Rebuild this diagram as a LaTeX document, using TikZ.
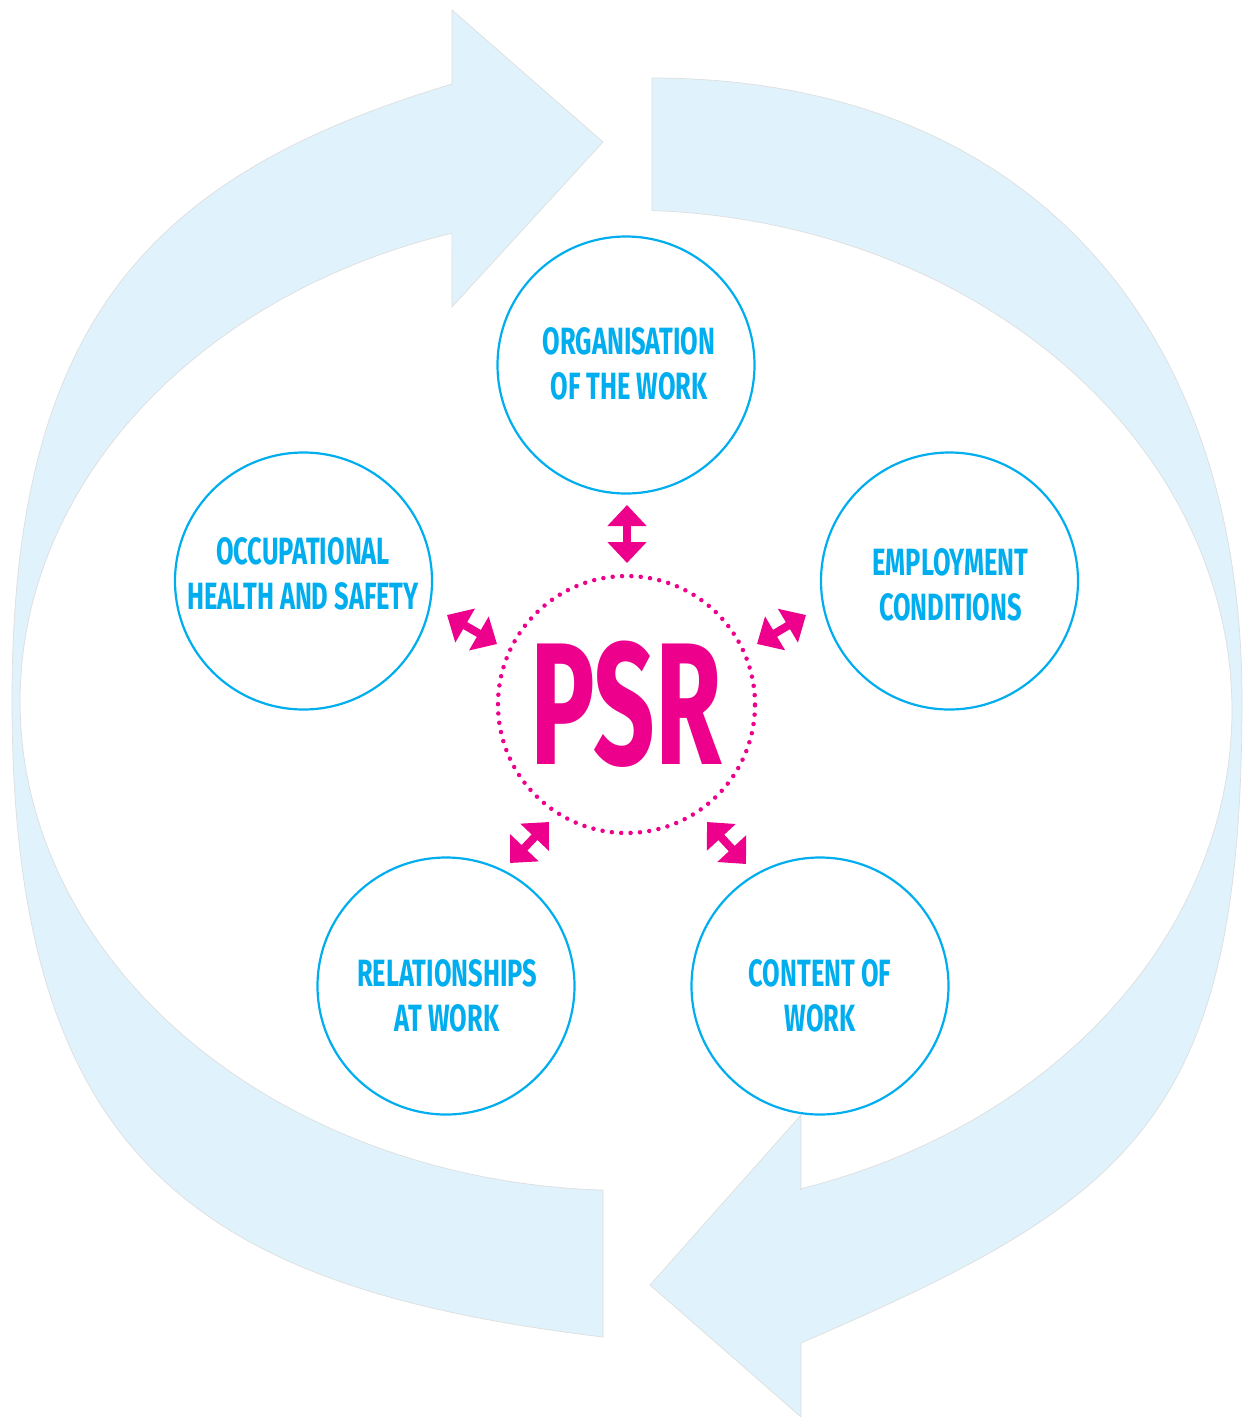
\documentclass[tikz,border=0pt]{standalone}
\usepackage{fontspec}
\newfontfamily\cond{Fira Sans}[FakeStretch=0.62]
\newfontfamily\condl{Fira Sans}[FakeStretch=0.67]
\usetikzlibrary{arrows.meta}
\definecolor{bandblue}{HTML}{E0F2FB}
\definecolor{cy}{HTML}{00AEEF}
\definecolor{mg}{HTML}{EC008C}
\begin{document}
\begin{tikzpicture}[x=1pt,y=-1pt,
  band/.style={fill=bandblue, draw=black!13, line width=0.7pt, line join=miter},
  topic/.style={circle, draw=cy, line width=2.2pt, fill=white, minimum size=257pt, inner sep=0pt},
  lbl/.style={text=cy, font=\condl\bfseries\fontsize{38}{45}\selectfont, align=center, inner sep=0pt},
  psrring/.style={circle, draw=mg, line width=4.5pt, dash pattern=on 0pt off 9.38pt, line cap=round,
     minimum size=257pt, inner sep=0pt, text=mg, font=\cond\bfseries\fontsize{174}{174}\selectfont},
  dbl/.style={draw=mg, fill=mg, line width=8pt,
     arrows={Triangle[width=38pt,length=21pt]-Triangle[width=38pt,length=21pt]}}]
\useasboundingbox (0,0) rectangle (1257,1417);

% left curved arrow (pointing right at top)
\path[band] (603,1337) -- (603,1190)
  -- plot[domain=92.2:253.3, samples=90] ({626+606*cos(\x)},{701.5+489*sin(\x)})
  -- (452,307) -- (603,142) -- (452,10) -- (452,84)
  .. controls (152,174) and (12,320) .. (12,700)
  .. controls (12,1160) and (198,1288) .. (603,1337) -- cycle;

% right curved arrow (pointing left at bottom)
\path[band] (652,210) -- (652,78)
  .. controls (1017,78) and (1242,314) .. (1242,700)
  .. controls (1242,1120) and (1132,1200) .. (801,1343)
  -- (801,1417) -- (650,1285) -- (801,1115) -- (801,1190)
  -- plot[domain=-73.3:87.5, samples=90] ({626+606*cos(-\x)},{710+500*sin(-\x)})
  -- cycle;

% topic circles
\node[topic] (org) at (626,365) {};
\node[topic] (occ) at (303.5,581) {};
\node[topic] (emp) at (949.5,581) {};
\node[topic] (rel) at (446,986) {};
\node[topic] (con) at (820,986) {};

\node[lbl] (orgt) at (629,364) {ORGANISATION\\OF THE WORK};
\node[lbl] (occt) at (303,573.5) {OCCUPATIONAL\\HEALTH AND SAFETY};
\node[lbl] (empt) at (950.5,585) {EMPLOYMENT\\CONDITIONS};
\node[lbl] (relt) at (447,996) {RELATIONSHIPS\\AT WORK};
\node[lbl] (cont) at (820,996) {CONTENT OF\\WORK};

% centre
\node[psrring] (psr) at (626.5,704.5) {PSR};

% double arrows
\coordinate (a1o) at (627,505);  \coordinate (a1p) at (627,563);
\coordinate (a2o) at (447,615);  \coordinate (a2p) at (497,644);
\coordinate (a3o) at (806,615);  \coordinate (a3p) at (757,644);
\coordinate (a4o) at (510,863);  \coordinate (a4p) at (549,822);
\coordinate (a5o) at (746,864);  \coordinate (a5p) at (707,822);
\draw[dbl] (a1o) -- (a1p);
\draw[dbl] (a2o) -- (a2p);
\draw[dbl] (a3o) -- (a3p);
\draw[dbl] (a4o) -- (a4p);
\draw[dbl] (a5o) -- (a5p);
\end{tikzpicture}
\end{document}
